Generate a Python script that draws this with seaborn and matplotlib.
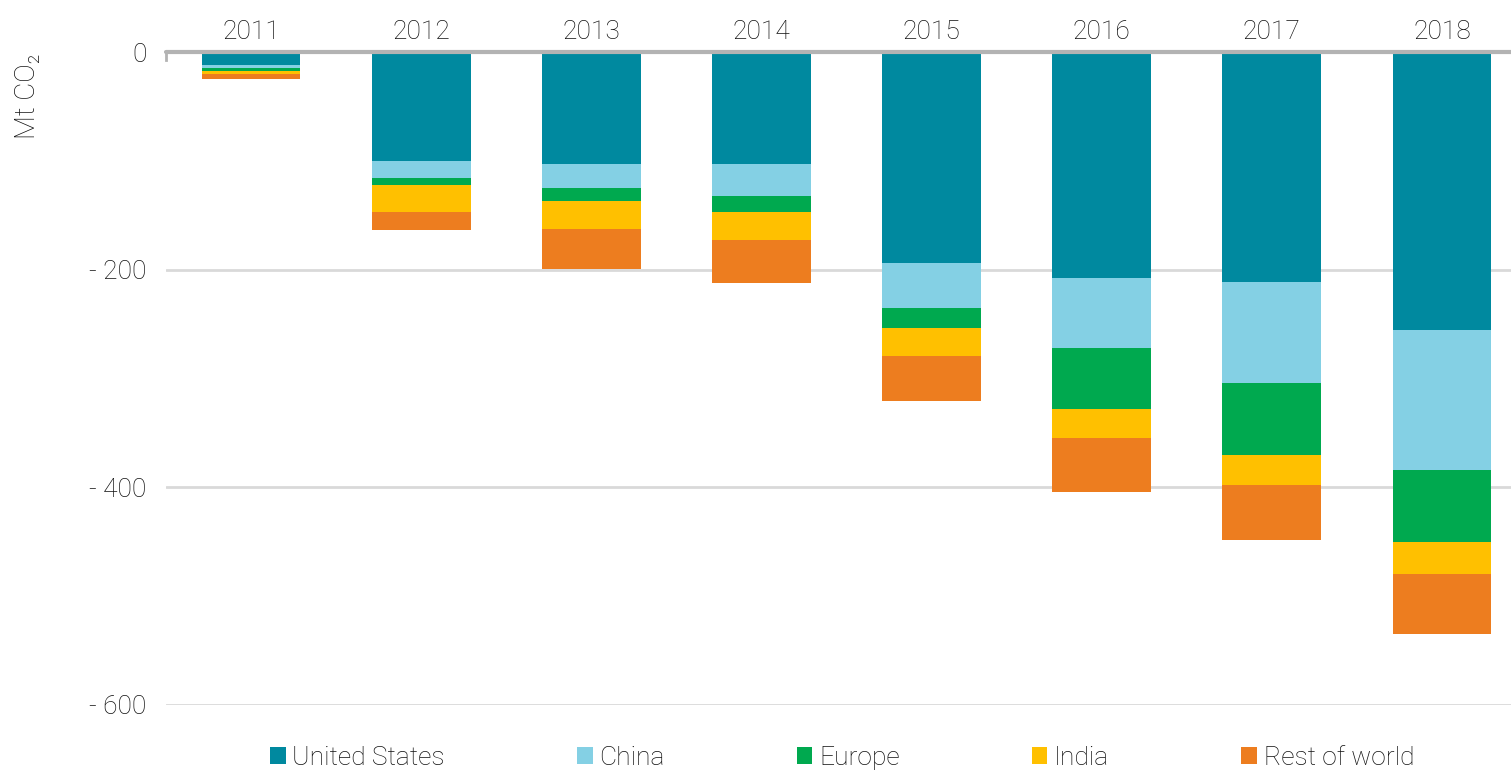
# Reductions in CO2 emissions by region, stacked negative bars
import numpy as np
import pandas as pd
import matplotlib
matplotlib.use("Agg")
import matplotlib.pyplot as plt
import seaborn as sns
from matplotlib.patches import Patch

sns.set_theme(style="white")
plt.rcParams['font.family'] = ['Roboto', 'DejaVu Sans']
plt.rcParams['font.weight'] = 'light'

# Data (Mt CO2)
anos = ['2011', '2012', '2013', '2014', '2015', '2016', '2017', '2018']
united_states = [-12, -100, -103, -103, -194, -208, -211, -255]
china = [-3, -16, -22, -29, -41, -64, -93, -129]
europe = [-2, -6, -12, -15, -19, -56, -66, -66]
india = [-3, -25, -26, -26, -25, -27, -28, -30]
rest_of_world = [-5, -17, -36, -39, -42, -49, -50, -55]

regioes = ['United States', 'China', 'Europe', 'India', 'Rest of world']
cores = ['#00899f', '#84d0e4', '#00a94f', '#ffc000', '#ed7d1f']

df = pd.DataFrame({
    'ano': anos,
    'United States': united_states,
    'China': china,
    'Europe': europe,
    'India': india,
    'Rest of world': rest_of_world,
})

# Cumulative sums so bars can be overlaid from the deepest to the shallowest
acumulado = df[regioes].cumsum(axis=1)

fig = plt.figure(figsize=(15.11, 7.7), dpi=100)
ax = fig.add_axes([166 / 1511, 1 - 705 / 770, 1 - 166 / 1511, (705 - 52) / 770])

for regiao, cor in reversed(list(zip(regioes, cores))):
    sns.barplot(x=df['ano'], y=acumulado[regiao], color=cor, width=0.58,
                saturation=1, ax=ax, zorder=3, edgecolor='none')

ax.set_ylim(-600, 0)
ax.set_xlim(-0.5, 7.406)
ax.set_yticks([0, -200, -400, -600])
ax.set_yticklabels(['0', '- 200', '- 400', '- 600'])
ax.yaxis.grid(True, color='#d9d9d9', linewidth=2, zorder=0)
ax.axhline(0, color='#b3b3b3', linewidth=3, zorder=4, clip_on=False)

texto = '#111111'
ax.xaxis.tick_top()
ax.set_xlabel('')
ax.set_ylabel('')
ax.tick_params(axis='x', length=0, pad=6, labelsize=19, labelcolor=texto)
ax.tick_params(axis='y', length=0, pad=14, labelsize=19, labelcolor=texto)

for lado in ['top', 'right', 'bottom']:
    ax.spines[lado].set_visible(False)
ax.spines['left'].set_bounds(-7, 0)
ax.spines['left'].set_color('#b3b3b3')
ax.spines['left'].set_linewidth(2)

fig.text(28 / 1511, 1 - 96 / 770, 'Mt CO₂', rotation=90, ha='center', va='center',
         fontsize=20, color=texto)

handles = [Patch(facecolor=c, edgecolor='none') for c in cores]
fig.legend(handles, regioes, loc='center', bbox_to_anchor=(842 / 1511, 1 - 758 / 770),
           ncol=5, frameon=False, fontsize=19, handlelength=0.6, handleheight=0.6,
           handletextpad=0.25, columnspacing=5.0, labelcolor=texto)

plt.savefig('out.png', dpi=100)
